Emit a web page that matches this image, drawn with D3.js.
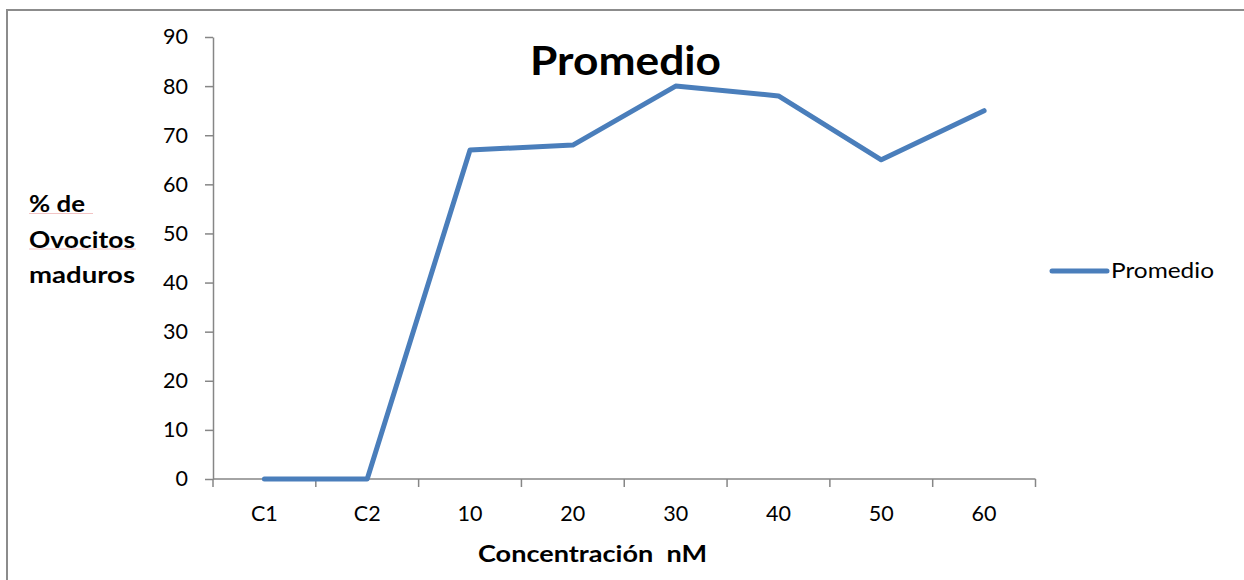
<!DOCTYPE html>
<html>
<head>
<meta charset="utf-8">
<script src="https://cdn.jsdelivr.net/npm/d3@7"></script>
<style>
  html, body { margin: 0; padding: 0; background: #fff; }
  svg { display: block; font-family: Lato, "Open Sans", sans-serif; }
</style>
</head>
<body>
<svg id="chart" width="1244" height="580"></svg>
<script>
// Concentration groups (controls and nM doses)
const categories = ["C1", "C2", "10", "20", "30", "40", "50", "60"];
// Mean percentage of mature oocytes per group
const promedio = [0, 0, 67, 68, 80, 78, 65, 75];
// Y axis tick values
const yTicks = [0, 10, 20, 30, 40, 50, 60, 70, 80, 90];
const seriesName = "Promedio";
const lineColor = "#4a7ebb";

const svg = d3.select("#chart");

// Stretch a text element horizontally to a given width (keeps its left/anchor edge)
function fitWidth(sel, width) {
  sel.attr("textLength", width).attr("lengthAdjust", "spacingAndGlyphs");
  return sel;
}

// Outer frame of the chart area
svg.append("rect")
  .attr("x", 7).attr("y", 10)
  .attr("width", 1250).attr("height", 600)
  .attr("fill", "none")
  .attr("stroke", "#8c8c8c")
  .attr("stroke-width", 2);

const plot = { left: 213, right: 1035.5, top: 37, bottom: 479 };

const x = d3.scaleBand()
  .domain(categories)
  .range([plot.left, plot.right])
  .paddingInner(0).paddingOuter(0);

const y = d3.scaleLinear()
  .domain([0, 90])
  .range([plot.bottom, plot.top]);

const axisColor = "#868686";

// Y axis
const yAxis = svg.append("g")
  .attr("transform", `translate(${plot.left},0)`)
  .call(d3.axisLeft(y).tickValues(yTicks).tickSize(8).tickPadding(17).tickSizeOuter(0));
yAxis.select(".domain").attr("stroke", axisColor).attr("stroke-width", 1.5);
yAxis.selectAll(".tick line").attr("stroke", axisColor).attr("stroke-width", 1.5);
yAxis.selectAll(".tick text")
  .attr("fill", "#000")
  .style("font-size", "21.5px")
  .style("font-family", "Lato, sans-serif");

// X axis: ticks on category boundaries, labels centered in each band
const xAxisG = svg.append("g").attr("transform", `translate(0,${plot.bottom})`);
xAxisG.append("line")
  .attr("x1", plot.left).attr("x2", plot.right)
  .attr("stroke", axisColor).attr("stroke-width", 1.5);
const boundaries = categories.map(c => x(c)).concat([x(categories[categories.length - 1]) + x.bandwidth()]);
xAxisG.selectAll(".xtick")
  .data(boundaries)
  .join("line")
  .attr("class", "xtick")
  .attr("x1", d => d).attr("x2", d => d)
  .attr("y1", 0).attr("y2", 8)
  .attr("stroke", axisColor).attr("stroke-width", 1.5);
xAxisG.selectAll(".xlabel")
  .data(categories)
  .join("text")
  .attr("class", "xlabel")
  .attr("x", d => x(d) + x.bandwidth() / 2)
  .attr("y", 42)
  .attr("text-anchor", "middle")
  .style("font-size", "21.5px")
  .text(d => d);

// Series line
const line = d3.line()
  .x((d, i) => x(categories[i]) + x.bandwidth() / 2)
  .y(d => y(d));

svg.append("path")
  .datum(promedio)
  .attr("d", line)
  .attr("fill", "none")
  .attr("stroke", lineColor)
  .attr("stroke-width", 5)
  .attr("stroke-linejoin", "round")
  .attr("stroke-linecap", "round");

// Title
fitWidth(svg.append("text")
  .attr("x", 530).attr("y", 75)
  .style("font-size", "40px")
  .style("font-weight", "bold")
  .text("Promedio"), 191);

// Y axis title (three lines)
const yTitle = ["% de", "Ovocitos", "maduros"];
const yTitleWidths = [56, 106, 106];
svg.selectAll(".ytitle")
  .data(yTitle)
  .join("text")
  .attr("class", "ytitle")
  .attr("x", 29)
  .attr("y", (d, i) => 212 + i * 35.5)
  .style("font-size", "22.5px")
  .style("font-weight", "bold")
  .text(d => d)
  .each(function (d, i) { fitWidth(d3.select(this), yTitleWidths[i]); });

// Spell-check style underlines beneath the first two title lines
[[29, 93, 213.5], [29, 136, 249]].forEach(([x1, x2, yy]) => {
  svg.append("line")
    .attr("x1", x1).attr("x2", x2).attr("y1", yy).attr("y2", yy)
    .attr("stroke", "#f2c4c4").attr("stroke-width", 1);
});

// X axis title
fitWidth(svg.append("text")
  .attr("x", 478).attr("y", 562)
  .style("font-size", "22.5px")
  .style("font-weight", "bold")
  .attr("xml:space", "preserve")
  .text("Concentración  nM"), 229);

// Legend
const legend = svg.append("g").attr("transform", "translate(1052,271)");
legend.append("line")
  .attr("x1", 0).attr("x2", 55)
  .attr("stroke", lineColor).attr("stroke-width", 5)
  .attr("stroke-linecap", "round");
fitWidth(legend.append("text")
  .attr("x", 59).attr("y", 7)
  .style("font-size", "22px")
  .text(seriesName), 103);
</script>
</body>
</html>
